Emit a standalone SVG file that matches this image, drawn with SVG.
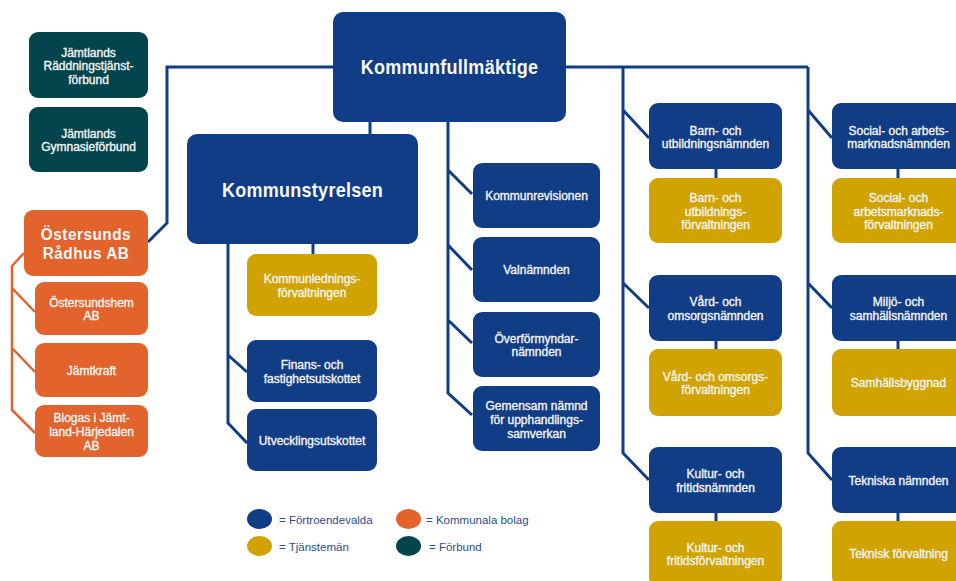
<svg xmlns="http://www.w3.org/2000/svg" width="956" height="581" viewBox="0 0 956 581">
<style>
.b{fill:#113c86}.y{fill:#d0a300}.o{fill:#e2632b}.g{fill:#04444c}
.t{font-family:"Liberation Sans",Arial,sans-serif;font-size:12px;fill:#f4f4f4;stroke:#f4f4f4;stroke-width:.35;text-anchor:middle}
.h{font-family:"Liberation Sans",Arial,sans-serif;font-weight:bold;fill:#f8f8f8;text-anchor:middle}
.c{fill:none;stroke:#113c86;stroke-width:3;stroke-linejoin:miter}
.co{fill:none;stroke:#e2632b;stroke-width:2.5}
.l{font-family:"Liberation Sans",Arial,sans-serif;font-size:11.5px;fill:#2c4c8f}
</style>
<rect width="956" height="581" fill="#ffffff"/>
<g id="connectors">
<path class="c" d="M333 67H167V223L148 242"/>
<path class="c" d="M566 67H808"/>
<path class="c" d="M370 122V134"/>
<path class="c" d="M448 122V393L472 415M448 170L472 194M448 245L472 270M448 320L472 343"/>
<path class="c" d="M228 244V423L247 443M228 355L247 372"/>
<path class="c" d="M313 244V254"/>
<path class="c" d="M623 67V453L649 480M623 110L649 138M623 283L649 308"/>
<path class="c" d="M808 67V453L832 480M808 110L832 138M808 283L832 308"/>
<path class="c" d="M716 169V178M716 341V349M716 513V521M898 169V178M898 341V349M898 513V521"/>
<path class="co" d="M24 253L12 266V410L35 433M12 288L35 312M12 348L35 372"/>
</g>
<g id="raddning"><rect class="g" x="29" y="32" width="119" height="66" rx="9"/>
<text class="t" transform="translate(88.5 0)"><tspan x="0" y="56.5">Jämtlands</tspan><tspan x="0" y="70">Räddningstjänst-</tspan><tspan x="0" y="83.5">förbund</tspan></text></g>
<g id="gymnasie"><rect class="g" x="29" y="107" width="119" height="65" rx="9"/>
<text class="t" transform="translate(88.5 0)"><tspan x="0" y="137.75">Jämtlands</tspan><tspan x="0" y="151.25">Gymnasieförbund</tspan></text></g>
<g id="radhus"><rect class="o" x="24" y="210" width="124" height="66" rx="9"/>
<text class="h" font-size="17" transform="translate(86 0) scale(.9 1)" letter-spacing=".6"><tspan x="0" y="240">Östersunds</tspan><tspan x="0" y="259">Rådhus AB</tspan></text></g>
<g id="ostersundshem"><rect class="o" x="35" y="282" width="113" height="53" rx="9"/>
<text class="t" transform="translate(91.5 0)"><tspan x="0" y="306.75">Östersundshem</tspan><tspan x="0" y="320.25">AB</tspan></text></g>
<g id="jamtkraft"><rect class="o" x="35" y="343" width="113" height="54" rx="9"/>
<text class="t" transform="translate(91.5 0)"><tspan x="0" y="374.5">Jämtkraft</tspan></text></g>
<g id="biogas"><rect class="o" x="35" y="405" width="113" height="52" rx="9"/>
<text class="t" transform="translate(91.5 0)"><tspan x="0" y="421.5">Biogas i Jämt-</tspan><tspan x="0" y="435.5">land-Härjedalen</tspan><tspan x="0" y="449.5">AB</tspan></text></g>
<g id="kommunfullmaktige"><rect class="b" x="333" y="12" width="233" height="110" rx="10"/>
<text class="h" font-size="20" transform="translate(449.5 0) scale(.9 1)" letter-spacing=".3"><tspan x="0" y="74">Kommunfullmäktige</tspan></text></g>
<g id="kommunstyrelsen"><rect class="b" x="187" y="134" width="231" height="110" rx="10"/>
<text class="h" font-size="20" transform="translate(302.5 0) scale(.9 1)" letter-spacing=".3"><tspan x="0" y="197">Kommunstyrelsen</tspan></text></g>
<g id="kommunledning"><rect class="y" x="247" y="254" width="130" height="62" rx="9"/>
<text class="t" transform="translate(312 0)"><tspan x="0" y="283">Kommunlednings-</tspan><tspan x="0" y="296.5">förvaltningen</tspan></text></g>
<g id="finans"><rect class="b" x="247" y="340" width="130" height="62" rx="9"/>
<text class="t" transform="translate(312 0)"><tspan x="0" y="369">Finans- och</tspan><tspan x="0" y="382.5">fastighetsutskottet</tspan></text></g>
<g id="utveckling"><rect class="b" x="247" y="409" width="130" height="62" rx="9"/>
<text class="t" transform="translate(312 0)"><tspan x="0" y="444.5">Utvecklingsutskottet</tspan></text></g>
<g id="kommunrevisionen"><rect class="b" x="473" y="163" width="127" height="65" rx="9"/>
<text class="t" transform="translate(536.5 0)"><tspan x="0" y="200">Kommunrevisionen</tspan></text></g>
<g id="valnamnden"><rect class="b" x="473" y="237" width="127" height="65" rx="9"/>
<text class="t" transform="translate(536.5 0)"><tspan x="0" y="274">Valnämnden</tspan></text></g>
<g id="overformyndar"><rect class="b" x="473" y="312" width="127" height="65" rx="9"/>
<text class="t" transform="translate(536.5 0)"><tspan x="0" y="342.5">Överförmyndar-</tspan><tspan x="0" y="356">nämnden</tspan></text></g>
<g id="gemensam"><rect class="b" x="473" y="386" width="127" height="65" rx="9"/>
<text class="t" transform="translate(536.5 0)"><tspan x="0" y="409.5">Gemensam nämnd</tspan><tspan x="0" y="423.5">för upphandlings-</tspan><tspan x="0" y="437.5">samverkan</tspan></text></g>
<g id="barn-namnd"><rect class="b" x="649" y="103" width="133" height="66" rx="9"/>
<text class="t" transform="translate(715.5 0)"><tspan x="0" y="134.5">Barn- och</tspan><tspan x="0" y="148">utbildningsnämnden</tspan></text></g>
<g id="barn-forv"><rect class="y" x="649" y="178" width="133" height="65" rx="9"/>
<text class="t" transform="translate(715.5 0)"><tspan x="0" y="202">Barn- och</tspan><tspan x="0" y="215.5">utbildnings-</tspan><tspan x="0" y="229">förvaltningen</tspan></text></g>
<g id="vard-namnd"><rect class="b" x="649" y="275" width="133" height="66" rx="9"/>
<text class="t" transform="translate(715.5 0)"><tspan x="0" y="306.25">Vård- och</tspan><tspan x="0" y="319.75">omsorgsnämnden</tspan></text></g>
<g id="vard-forv"><rect class="y" x="649" y="349" width="133" height="67" rx="9"/>
<text class="t" transform="translate(715.5 0)"><tspan x="0" y="380.75">Vård- och omsorgs-</tspan><tspan x="0" y="394.25">förvaltningen</tspan></text></g>
<g id="kultur-namnd"><rect class="b" x="649" y="447" width="133" height="66" rx="9"/>
<text class="t" transform="translate(715.5 0)"><tspan x="0" y="478.25">Kultur- och</tspan><tspan x="0" y="491.75">fritidsnämnden</tspan></text></g>
<g id="kultur-forv"><rect class="y" x="649" y="521" width="133" height="65" rx="9"/>
<text class="t" transform="translate(715.5 0)"><tspan x="0" y="551.75">Kultur- och</tspan><tspan x="0" y="565.25">fritidsförvaltningen</tspan></text></g>
<g id="social-namnd"><rect class="b" x="832" y="103" width="133" height="66" rx="9"/>
<text class="t" transform="translate(898.5 0)"><tspan x="0" y="134.5">Social- och arbets-</tspan><tspan x="0" y="148">marknadsnämnden</tspan></text></g>
<g id="social-forv"><rect class="y" x="832" y="178" width="133" height="65" rx="9"/>
<text class="t" transform="translate(898.5 0)"><tspan x="0" y="202">Social- och</tspan><tspan x="0" y="215.5">arbetsmarknads-</tspan><tspan x="0" y="229">förvaltningen</tspan></text></g>
<g id="miljo-namnd"><rect class="b" x="832" y="275" width="133" height="66" rx="9"/>
<text class="t" transform="translate(898.5 0)"><tspan x="0" y="306.25">Miljö- och</tspan><tspan x="0" y="319.75">samhällsnämnden</tspan></text></g>
<g id="samhallsbyggnad"><rect class="y" x="832" y="349" width="133" height="67" rx="9"/>
<text class="t" transform="translate(898.5 0)"><tspan x="0" y="387">Samhällsbyggnad</tspan></text></g>
<g id="tekniska-namnd"><rect class="b" x="832" y="447" width="133" height="66" rx="9"/>
<text class="t" transform="translate(898.5 0)"><tspan x="0" y="484.5">Tekniska nämnden</tspan></text></g>
<g id="teknisk-forv"><rect class="y" x="832" y="521" width="133" height="65" rx="9"/>
<text class="t" transform="translate(898.5 0)"><tspan x="0" y="558">Teknisk förvaltning</tspan></text></g>
<g id="legend">
<ellipse class="b" cx="259.5" cy="519" rx="12.5" ry="10"/>
<ellipse class="y" cx="259.5" cy="546" rx="12.5" ry="10"/>
<ellipse class="o" cx="408.5" cy="519" rx="12.5" ry="10"/>
<ellipse class="g" cx="408.5" cy="546" rx="12.5" ry="10"/>
<text class="l" x="279" y="524">= Förtroendevalda</text>
<text class="l" x="279" y="551">= Tjänstemän</text>
<text class="l" x="426" y="524">= Kommunala bolag</text>
<text class="l" x="429" y="551">= Förbund</text>
</g>
</svg>
